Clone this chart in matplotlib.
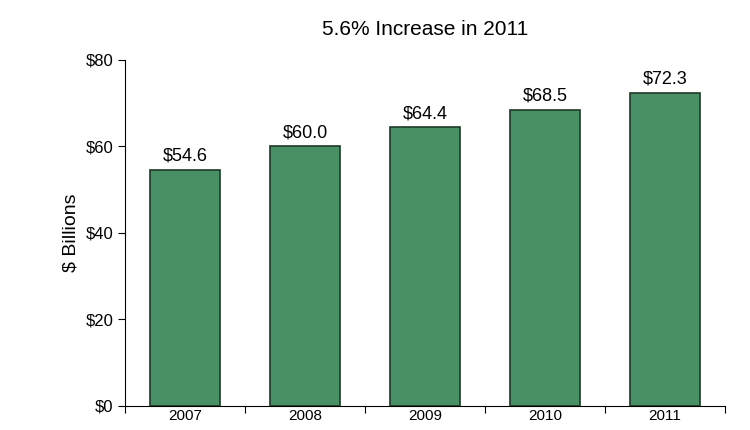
import matplotlib
matplotlib.use("Agg")
import matplotlib.pyplot as plt

years = ["2007", "2008", "2009", "2010", "2011"]
values = [54.6, 60.0, 64.4, 68.5, 72.3]
labels = ["$54.6", "$60.0", "$64.4", "$68.5", "$72.3"]
yticks = [0, 20, 40, 60, 80]

fig = plt.figure(figsize=(7.5, 4.3), dpi=100)
ax = fig.add_axes([0.1667, 0.056, 0.8, 0.805])
x = list(range(len(years)))
ax.bar(x, values, width=0.58, color="#4a9066", edgecolor="#1e3a26", linewidth=1.2)
for xi, v, l in zip(x, values, labels):
    ax.text(xi, v + 1.2, l, ha="center", va="bottom", fontsize=13, family="Liberation Sans")
ax.set_xlim(-0.5, 4.5)
ax.set_ylim(0, 80)
ax.set_yticks(yticks)
ax.set_yticklabels([f"${t}" for t in yticks], fontsize=12, family="Liberation Sans")
ax.set_xticks([i + 0.5 for i in range(-1, 5)], minor=False)
ax.set_xticklabels([""] * 6)
ax.set_xticks(x, minor=True)
ax.set_xticklabels(years, minor=True, fontsize=11, family="Liberation Sans")
ax.tick_params(axis="x", which="minor", length=0, pad=2)
ax.tick_params(axis="x", which="major", length=5, direction="out")
ax.tick_params(axis="y", length=5, direction="out")
for s in ["top", "right"]:
    ax.spines[s].set_visible(False)
ax.set_ylabel("$ Billions", fontsize=14, family="Liberation Sans")
ax.set_title("5.6% Increase in 2011", fontsize=15, family="Liberation Sans", pad=18)
fig.savefig("out.png", dpi=100)
